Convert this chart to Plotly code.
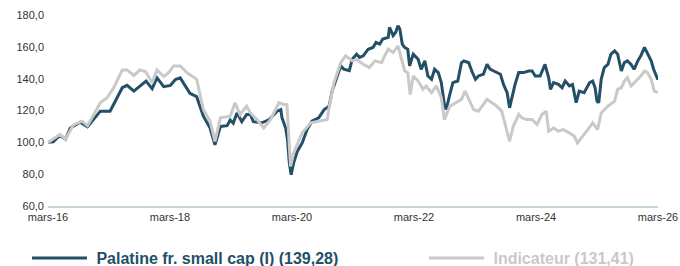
import pandas as pd
import plotly.graph_objects as go

# Palatine fr. small cap (I) — time as decimal years, values base 100
pal_time = [2016.17, 2016.25, 2016.36, 2016.45, 2016.53, 2016.69, 2016.81, 2017.02, 2017.18, 2017.38,
            2017.46, 2017.57, 2017.77, 2017.87, 2017.95, 2018.06, 2018.17, 2018.25, 2018.33, 2018.49,
            2018.60, 2018.71, 2018.82, 2018.90, 2018.99, 2019.10, 2019.15, 2019.20, 2019.26, 2019.34,
            2019.42, 2019.48, 2019.53, 2019.67, 2019.79, 2019.92, 2019.98, 2020.00, 2020.06, 2020.09,
            2020.12, 2020.15, 2020.19, 2020.25, 2020.33, 2020.41, 2020.49, 2020.60, 2020.69, 2020.77,
            2020.82, 2020.90, 2020.96, 2021.01, 2021.10, 2021.15, 2021.22, 2021.27, 2021.33, 2021.41,
            2021.49, 2021.54, 2021.60, 2021.65, 2021.74, 2021.76, 2021.82, 2021.86, 2021.90, 2021.93,
            2021.97, 2022.01, 2022.06, 2022.09, 2022.15, 2022.23, 2022.28, 2022.34, 2022.39, 2022.45,
            2022.50, 2022.56, 2022.61, 2022.66, 2022.69, 2022.75, 2022.80, 2022.88, 2022.94, 2022.98,
            2023.06, 2023.11, 2023.17, 2023.22, 2023.30, 2023.36, 2023.41, 2023.47, 2023.52, 2023.58,
            2023.63, 2023.69, 2023.73, 2023.77, 2023.82, 2023.88, 2023.96, 2024.04, 2024.10, 2024.15,
            2024.23, 2024.31, 2024.37, 2024.40, 2024.45, 2024.53, 2024.59, 2024.64, 2024.71, 2024.76,
            2024.82, 2024.87, 2024.95, 2025.04, 2025.09, 2025.13, 2025.16, 2025.19, 2025.23, 2025.28,
            2025.34, 2025.39, 2025.45, 2025.50, 2025.56, 2025.61, 2025.66, 2025.72, 2025.77, 2025.83,
            2025.88, 2025.94, 2025.99, 2026.05, 2026.09, 2026.13, 2026.16]
pal_vals = [100.0, 100.3, 104.5, 102.0, 109.0, 112.6, 109.7, 119.6, 119.6, 134.3,
            135.8, 132.2, 138.5, 133.7, 140.5, 135.0, 135.8, 139.5, 140.5, 130.8,
            128.7, 116.4, 109.0, 98.5, 110.0, 110.5, 114.0, 112.0, 118.5, 113.0,
            117.5, 117.5, 113.0, 112.3, 114.3, 119.6, 120.6, 115.4, 109.0, 101.7,
            87.0, 79.6, 87.0, 94.3, 99.6, 108.0, 113.3, 115.4, 120.6, 122.7,
            132.2, 141.7, 148.0, 146.0, 145.0, 152.2, 155.4, 153.3, 154.3, 158.5,
            159.6, 162.8, 161.7, 164.9, 165.9, 172.2, 167.0, 169.0, 173.3, 171.2,
            161.7, 159.6, 158.5, 148.0, 155.4, 152.2, 145.9, 151.2, 141.7, 139.6,
            145.9, 143.8, 137.5, 123.8, 120.6, 130.1, 137.5, 138.5, 150.0, 151.2,
            150.0, 144.8, 139.6, 141.7, 142.8, 149.0, 146.0, 144.8, 143.8, 142.8,
            136.4, 131.2, 121.7, 129.0, 136.4, 143.8, 143.8, 144.8, 144.8, 141.7,
            141.7, 149.0, 140.7, 133.3, 137.5, 136.4, 134.3, 138.5, 135.4, 136.4,
            124.9, 132.2, 131.2, 137.5, 138.5, 134.3, 125.9, 124.9, 139.6, 147.0,
            149.0, 155.4, 157.5, 155.4, 144.8, 150.1, 151.2, 149.0, 145.9, 151.2,
            154.3, 159.6, 155.4, 151.2, 145.9, 141.7, 139.28]

# Indicateur
ind_time = [2016.17, 2016.36, 2016.45, 2016.58, 2016.72, 2016.81, 2017.02, 2017.13, 2017.24, 2017.38,
            2017.46, 2017.57, 2017.67, 2017.76, 2017.87, 2017.95, 2018.06, 2018.14, 2018.22, 2018.33,
            2018.44, 2018.60, 2018.71, 2018.82, 2018.90, 2018.99, 2019.15, 2019.23, 2019.31, 2019.42,
            2019.48, 2019.59, 2019.70, 2019.81, 2019.95, 2020.03, 2020.08, 2020.10, 2020.14, 2020.19,
            2020.33, 2020.47, 2020.60, 2020.74, 2020.77, 2020.85, 2020.96, 2021.04, 2021.15, 2021.22,
            2021.33, 2021.43, 2021.52, 2021.63, 2021.68, 2021.74, 2021.82, 2021.90, 2021.95, 2022.01,
            2022.06, 2022.10, 2022.15, 2022.23, 2022.31, 2022.36, 2022.45, 2022.53, 2022.61, 2022.66,
            2022.75, 2022.86, 2022.94, 2023.00, 2023.08, 2023.14, 2023.22, 2023.30, 2023.36, 2023.44,
            2023.52, 2023.60, 2023.66, 2023.73, 2023.79, 2023.88, 2023.93, 2024.01, 2024.10, 2024.18,
            2024.26, 2024.33, 2024.37, 2024.45, 2024.53, 2024.61, 2024.71, 2024.79, 2024.84, 2024.93,
            2025.01, 2025.09, 2025.17, 2025.23, 2025.34, 2025.45, 2025.50, 2025.56, 2025.61, 2025.66,
            2025.72, 2025.80, 2025.88, 2025.94, 2025.99, 2026.05, 2026.10, 2026.16]
ind_vals = [100.0, 105.0, 102.0, 111.0, 113.3, 110.5, 124.9, 128.0, 134.3, 145.5,
            145.5, 142.0, 145.5, 144.5, 137.5, 145.5, 141.3, 143.8, 148.0, 148.0,
            143.8, 139.6, 120.6, 113.3, 100.6, 115.4, 116.4, 124.9, 117.5, 122.7,
            118.5, 114.3, 109.0, 114.3, 124.9, 123.8, 123.8, 108.0, 84.8, 93.3,
            106.0, 112.3, 113.3, 114.3, 121.7, 137.5, 150.0, 154.3, 151.2, 152.0,
            149.0, 147.0, 151.2, 150.0, 154.3, 158.5, 156.4, 160.6, 153.3, 144.8,
            143.8, 130.0, 141.7, 138.5, 133.3, 135.4, 131.2, 135.4, 128.0, 114.3,
            122.7, 124.9, 127.0, 132.2, 125.9, 120.6, 119.6, 123.8, 127.0, 124.9,
            122.7, 119.6, 111.2, 100.6, 110.1, 117.5, 115.4, 114.3, 114.3, 111.2,
            117.5, 119.6, 107.0, 109.0, 107.0, 108.0, 105.9, 103.8, 99.6, 103.8,
            108.0, 112.3, 108.0, 118.5, 122.7, 125.9, 133.3, 134.3, 138.5, 140.7,
            135.4, 138.5, 141.7, 144.8, 143.8, 139.6, 132.2, 131.41]

tick_dates = ["2016-03-01", "2018-03-01", "2020-03-01", "2022-03-01", "2024-03-01", "2026-03-01"]
tick_labels = ["mars-16", "mars-18", "mars-20", "mars-22", "mars-24", "mars-26"]
y_ticks = [60, 80, 100, 120, 140, 160, 180]

pal_name = "Palatine fr. small cap (I) (139,28)"
ind_name = "Indicateur (131,41)"

DARK = "#234f67"
GREY = "#c9c9c9"
FONT = "Liberation Sans, Arial, sans-serif"


def to_dates(years):
    out = []
    for t in years:
        y = int(t)
        start = pd.Timestamp(year=y, month=1, day=1)
        end = pd.Timestamp(year=y + 1, month=1, day=1)
        out.append(start + (end - start) * (t - y))
    return out


pal_dates = to_dates(pal_time)
ind_dates = to_dates(ind_time)

fig = go.Figure()
fig.add_trace(go.Scatter(
    x=pal_dates, y=pal_vals, mode="lines", legend="legend",
    name=f"&nbsp;<span style='color:{DARK}'><b>{pal_name}</b></span>",
    line=dict(color=DARK, width=3),
))
fig.add_trace(go.Scatter(
    x=ind_dates, y=ind_vals, mode="lines", legend="legend2",
    name=f"&nbsp;<span style='color:{GREY}'><b>{ind_name}</b></span>",
    line=dict(color=GREY, width=3),
))

legend_common = dict(
    orientation="h", xref="container", yref="container",
    xanchor="left", yanchor="middle", y=0.03,
    font=dict(size=16, family=FONT),
    itemwidth=55, bgcolor="rgba(0,0,0,0)",
)

fig.update_layout(
    width=680, height=266,
    margin=dict(l=48, r=22, t=15, b=60),
    paper_bgcolor="white", plot_bgcolor="white",
    separators=", ",
    font=dict(family=FONT, size=11, color="#333333"),
    showlegend=True,
    legend=dict(x=0.0397, **legend_common),
    legend2=dict(x=0.6235, **legend_common),
    xaxis=dict(
        range=["2016-03-01", "2026-03-01"],
        tickvals=tick_dates, ticktext=tick_labels,
        showgrid=False, zeroline=False, automargin=False,
        showline=True, linecolor="#c7d4d8", linewidth=2,
        ticks="", tickfont=dict(size=11, color="#333333"),
    ),
    yaxis=dict(
        range=[60, 180], tickvals=y_ticks, tickformat=".1f",
        showgrid=False, zeroline=False, showline=False, automargin=False,
        ticks="", ticklabelstandoff=3, tickfont=dict(size=11, color="#333333"),
    ),
)

fig.write_html(
    "out.html",
    config={"displayModeBar": False},
    post_script="document.body.style.margin='0';document.body.style.overflow='hidden';",
)
